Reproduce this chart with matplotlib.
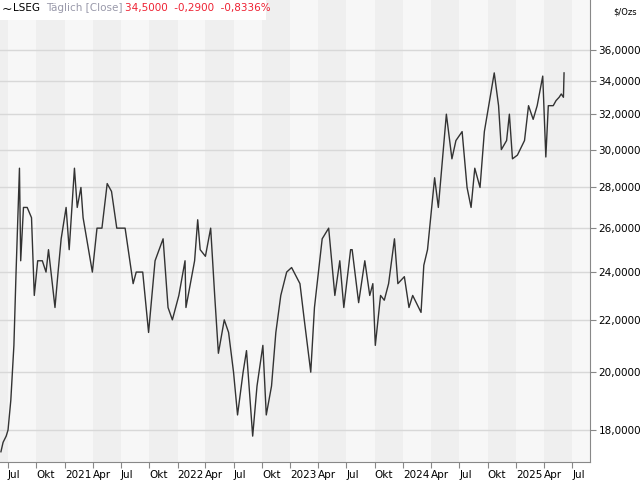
import numpy as np
import pandas as pd
import matplotlib.pyplot as plt
import matplotlib.dates as mdates
from matplotlib.ticker import FixedLocator, NullLocator

dates = ["2020-06-08", "2020-06-15", "2020-06-25", "2020-07-01", "2020-07-10", "2020-07-20", "2020-07-27",
         "2020-08-07", "2020-08-11", "2020-08-20", "2020-09-01", "2020-09-15", "2020-09-24", "2020-10-05",
         "2020-10-20", "2020-11-01", "2020-11-09", "2020-11-30", "2020-12-10", "2020-12-20", "2021-01-05",
         "2021-01-15", "2021-02-01", "2021-02-10", "2021-02-22", "2021-03-01", "2021-03-31", "2021-04-15",
         "2021-05-01", "2021-05-18", "2021-06-01", "2021-06-18", "2021-07-01", "2021-07-15", "2021-08-10",
         "2021-08-20", "2021-09-10", "2021-09-29", "2021-10-20", "2021-11-15", "2021-12-01", "2021-12-15",
         "2022-01-05", "2022-01-25", "2022-01-28", "2022-02-25", "2022-03-07", "2022-03-15", "2022-04-01",
         "2022-04-18", "2022-05-01", "2022-05-13", "2022-06-01", "2022-06-15", "2022-07-01", "2022-07-14",
         "2022-08-01", "2022-08-12", "2022-09-01", "2022-09-15", "2022-10-04", "2022-10-15", "2022-11-01",
         "2022-11-15", "2022-12-01", "2022-12-20", "2023-01-05", "2023-02-01", "2023-02-15", "2023-03-08",
         "2023-03-20", "2023-04-14", "2023-05-05", "2023-05-25", "2023-06-10", "2023-06-23", "2023-07-15",
         "2023-07-20", "2023-08-10", "2023-08-30", "2023-09-15", "2023-09-25", "2023-10-03", "2023-10-20",
         "2023-11-01", "2023-11-15", "2023-12-04", "2023-12-15", "2024-01-05", "2024-01-20", "2024-02-01",
         "2024-02-28", "2024-03-08", "2024-03-20", "2024-04-12", "2024-04-24", "2024-05-20", "2024-06-07",
         "2024-06-20", "2024-07-10", "2024-07-26", "2024-08-08", "2024-08-20", "2024-09-06", "2024-09-20",
         "2024-10-22", "2024-11-05", "2024-11-14", "2024-12-01", "2024-12-10", "2024-12-20", "2025-01-05",
         "2025-01-28", "2025-02-10", "2025-02-25", "2025-03-10", "2025-03-28", "2025-04-07", "2025-04-15",
         "2025-05-01", "2025-05-10", "2025-05-20", "2025-05-27", "2025-06-03", "2025-06-05"]
prices = [17.3, 17.6, 17.8, 18.0, 19.0, 21.0, 24.0,
          29.0, 24.5, 27.0, 27.0, 26.5, 23.0, 24.5,
          24.5, 24.0, 25.0, 22.5, 24.0, 25.5, 27.0,
          25.0, 29.0, 27.0, 28.0, 26.5, 24.0, 26.0,
          26.0, 28.2, 27.8, 26.0, 26.0, 26.0, 23.5,
          24.0, 24.0, 21.5, 24.5, 25.5, 22.5, 22.0,
          23.0, 24.5, 22.5, 24.5, 26.4, 25.0, 24.7,
          26.0, 23.0, 20.7, 22.0, 21.5, 20.0, 18.5,
          20.0, 20.8, 17.8, 19.5, 21.0, 18.5, 19.5,
          21.5, 23.0, 24.0, 24.2, 23.5, 22.0, 20.0,
          22.5, 25.5, 26.0, 23.0, 24.5, 22.5, 25.0,
          25.0, 22.7, 24.5, 23.0, 23.5, 21.0, 23.0,
          22.8, 23.5, 25.5, 23.5, 23.8, 22.5, 23.0,
          22.3, 24.3, 25.0, 28.5, 27.0, 32.0, 29.5,
          30.5, 31.0, 28.0, 27.0, 29.0, 28.0, 31.0,
          34.5, 32.5, 30.0, 30.5, 32.0, 29.5, 29.7,
          30.5, 32.5, 31.7, 32.5, 34.3, 29.6, 32.5,
          32.5, 32.8, 33.0, 33.2, 33.0, 34.5]
y_ticks = [18, 20, 22, 24, 26, 28, 30, 32, 34, 36]

d = pd.to_datetime(dates)

fig = plt.figure(figsize=(6.4, 4.8), dpi=100)
ax = fig.add_axes([0.0, 1 - 462 / 480, 590 / 640, 462 / 480])
ax.set_facecolor("#f7f7f7")

# quarter bands
q = pd.date_range("2020-04-01", "2025-10-01", freq="QS")
for i in range(len(q) - 1):
    if i % 2 == 0:
        ax.axvspan(q[i], q[i + 1], color="#efefef", lw=0, zorder=0)

ax.set_yscale("log")
ax.set_ylim(16.98, 39.4)
ax.set_xlim(pd.Timestamp("2020-06-05"), pd.Timestamp("2025-08-28"))
ax.yaxis.set_major_locator(FixedLocator(y_ticks))
ax.yaxis.set_minor_locator(NullLocator())
ax.set_yticklabels([f"{v:.4f}".replace(".", ",") for v in y_ticks])
ax.yaxis.tick_right()
ax.grid(axis="y", color="#d8d8d8", lw=1)
ax.set_axisbelow(True)

xt = pd.date_range("2020-07-01", "2025-07-01", freq="QS")
labels = {4: "Apr", 7: "Jul", 10: "Okt"}
xl = [str(t.year) if t.month == 1 else labels[t.month] for t in xt]
ax.set_xticks(xt)
ax.set_xticklabels(xl, ha="left")
ax.tick_params(labelsize=7.5, length=4, pad=2, color="#888888")

for s in ax.spines.values():
    s.set_color("#888888")
ax.spines["top"].set_visible(False)
ax.spines["left"].set_visible(False)

ax.plot(d, prices, color="#333333", lw=1)

fig.text(0.995, 0.985, "$/Ozs", ha="right", va="top", fontsize=6)
fig.patches.append(plt.Rectangle((0, 0.958), 0.415, 0.042, transform=fig.transFigure,
                                 facecolor="white", edgecolor="none", zorder=3))
fig.text(0.003, 0.993, "~", fontsize=9, va="top", zorder=4)
fig.text(0.02, 0.993, "LSEG", fontsize=7.5, va="top", zorder=4)
fig.text(0.072, 0.993, "Täglich [Close]", fontsize=7.5, va="top", color="#9999aa", zorder=4)
fig.text(0.196, 0.993, "34,5000  -0,2900  -0,8336%", fontsize=7.5, va="top", color="#ee2233", zorder=4)

fig.savefig("out.png")
